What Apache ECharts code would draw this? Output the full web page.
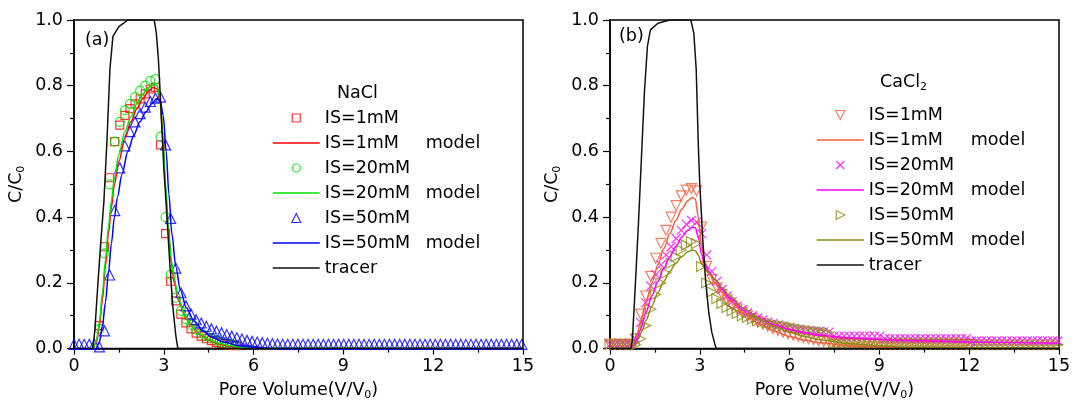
<!DOCTYPE html>
<html><head><meta charset="utf-8">
<script src="https://cdn.jsdelivr.net/npm/echarts@6/dist/echarts.min.js"></script>
<style>html,body{margin:0;padding:0;background:#fff}#c{width:1074px;height:406px}</style>
</head><body><div id="c"></div>
<script>
// Pore volume sampling of the measured points
const PV = [0,0.17,0.34,0.51,0.68,0.85,1.02,1.19,1.36,1.53,1.7,1.87,2.04,2.21,2.38,2.55,2.72,2.89,3.06,3.23,3.4,3.57,3.74,3.91,4.08,4.25,4.42,4.59,4.76,4.93,5.1,5.27,5.44,5.61,5.78,5.95,6.12,6.29,6.46,6.63,6.8,6.97,7.14,7.31,7.48,7.65,7.82,7.99,8.16,8.33,8.5,8.67,8.84,9.01,9.18,9.35,9.52,9.69,9.86,10.03,10.2,10.37,10.54,10.71,10.88,11.05,11.22,11.39,11.56,11.73,11.9,12.07,12.24,12.41,12.58,12.75,12.92,13.09,13.26,13.43,13.6,13.77,13.94,14.11,14.28,14.45,14.62,14.79,14.96];

// (a) NaCl measured C/C0
const NaCl_1mM = [null,null,null,null,null,0.07,0.31,0.52,0.63,0.68,0.71,0.73,0.745,0.76,0.775,0.79,0.795,0.62,0.35,0.205,0.145,0.105,0.078,0.06,0.047,0.038,0.03,0.024,0.019,0.015,0.012,0.01,0.009];
const NaCl_20mM = [null,null,null,null,null,0.06,0.29,0.5,0.63,0.69,0.725,0.745,0.765,0.785,0.8,0.815,0.82,0.645,0.4,0.225,0.155,0.115,0.09,0.072,0.058,0.047,0.038,0.031,0.025,0.02,0.016,0.013,0.011];
const NaCl_50mM = [0.013,0.013,0.013,0.013,0.013,0.005,0.054,0.224,0.42,0.55,0.617,0.66,0.69,0.715,0.735,0.752,0.762,0.765,0.62,0.396,0.245,0.17,0.13,0.105,0.088,0.078,0.068,0.06,0.053,0.048,0.043,0.038,0.033,0.029,0.025,0.022,0.02,0.018,0.016,0.015,0.014,0.013,0.013,0.013,0.013,0.013,0.013,0.013,0.013,0.013,0.013,0.013,0.013,0.013,0.013,0.013,0.013,0.013,0.013,0.013,0.013,0.013,0.013,0.013,0.013,0.013,0.013,0.013,0.013,0.013,0.013,0.013,0.013,0.013,0.013,0.013,0.013,0.013,0.013,0.013,0.013,0.013,0.013,0.013,0.013,0.013,0.013,0.013,0.013];

// (b) CaCl2 measured C/C0
const CaCl2_1mM = [0.013,0.013,0.013,0.013,0.013,0.03,0.105,0.16,0.22,0.275,0.32,0.36,0.4,0.435,0.465,0.482,0.487,0.48,0.37,0.25,0.21,0.185,0.165,0.148,0.13,0.12,0.11,0.1,0.091,0.083,0.075,0.068,0.061,0.055,0.05,0.045,0.041,0.037,0.033,0.03,0.027,0.024,0.022,0.02,0.018,0.017,0.016,0.015,0.014,0.013,0.013,0.013,0.013,0.013,0.013,0.013,0.013,0.013,0.013,0.013,0.013,0.013,0.013,0.013,0.013,0.013,0.013,0.013,0.013,0.013,0.013,0.013];
const CaCl2_20mM = [0.013,0.013,0.013,0.013,0.013,0.03,0.08,0.14,0.19,0.225,0.255,0.285,0.31,0.335,0.36,0.378,0.39,0.385,0.35,0.285,0.235,0.205,0.18,0.16,0.143,0.13,0.119,0.109,0.1,0.093,0.087,0.081,0.076,0.072,0.068,0.064,0.061,0.058,0.056,0.054,0.053,0.052,0.051,0.05,0.038,0.038,0.038,0.038,0.038,0.038,0.038,0.038,0.038,0.038,0.03,0.03,0.03,0.03,0.03,0.03,0.03,0.03,0.03,0.03,0.03,0.03,0.03,0.03,0.03,0.03,0.03,0.023,0.023,0.023,0.023,0.023,0.023,0.023,0.023,0.023,0.023,0.023,0.023,0.023,0.023,0.023,0.023,0.023,0.023];
const CaCl2_50mM = [0.013,0.013,0.013,0.013,0.013,0.012,0.03,0.07,0.12,0.165,0.2,0.23,0.26,0.28,0.3,0.315,0.325,0.32,0.25,0.2,0.172,0.152,0.137,0.125,0.115,0.107,0.1,0.095,0.09,0.085,0.081,0.077,0.074,0.072,0.07,0.067,0.064,0.061,0.058,0.056,0.054,0.052,0.05,0.048,0.017,0.017,0.017,0.017,0.017,0.017,0.017,0.017,0.017,0.017,0.017,0.017,0.017,0.017,0.017,0.017,0.017,0.017,0.017,0.017,0.017,0.017,0.017,0.017,0.017,0.017,0.017,0.012,0.012,0.012,0.012,0.012,0.012,0.012,0.012,0.012,0.012,0.012,0.012,0.012,0.012,0.012,0.012,0.012,0.012];

// model curves and tracer, [PV, C/C0]
const NaCl_1mM_model = [[0.65,0],[0.75,0.02],[0.85,0.07],[0.95,0.15],[1.05,0.25],[1.15,0.35],[1.25,0.43],[1.35,0.5],[1.5,0.57],[1.7,0.64],[1.9,0.69],[2.1,0.73],[2.3,0.76],[2.5,0.785],[2.65,0.795],[2.78,0.79],[2.88,0.75],[2.97,0.64],[3.05,0.5],[3.15,0.36],[3.25,0.26],[3.35,0.2],[3.5,0.145],[3.7,0.1],[3.9,0.07],[4.2,0.043],[4.5,0.026],[4.8,0.015],[5.2,0.007],[5.6,0.003],[6,0],[15,0]];
const NaCl_20mM_model = [[0.65,0],[0.75,0.025],[0.85,0.08],[0.95,0.17],[1.05,0.27],[1.15,0.37],[1.25,0.45],[1.35,0.52],[1.5,0.59],[1.7,0.66],[1.9,0.705],[2.1,0.745],[2.3,0.775],[2.5,0.795],[2.65,0.805],[2.78,0.8],[2.88,0.76],[2.97,0.65],[3.05,0.51],[3.15,0.37],[3.25,0.27],[3.35,0.21],[3.5,0.15],[3.7,0.1],[3.9,0.07],[4.2,0.044],[4.5,0.028],[4.8,0.017],[5.2,0.009],[5.6,0.004],[6,0.001],[15,0]];
const NaCl_50mM_model = [[0.75,0],[0.85,0.02],[0.95,0.07],[1.05,0.14],[1.15,0.23],[1.25,0.32],[1.35,0.4],[1.45,0.46],[1.6,0.53],[1.8,0.6],[2,0.65],[2.2,0.69],[2.4,0.72],[2.6,0.745],[2.75,0.76],[2.88,0.755],[2.98,0.71],[3.08,0.6],[3.17,0.47],[3.27,0.35],[3.4,0.25],[3.55,0.18],[3.75,0.125],[4,0.085],[4.3,0.055],[4.6,0.035],[5,0.02],[5.5,0.009],[6,0.004],[6.5,0.001],[7,0],[15,0]];
const NaCl_tracer = [[0,0],[0.63,0],[0.7,0.06],[0.8,0.2],[0.9,0.33],[1,0.45],[1.1,0.63],[1.2,0.85],[1.3,0.95],[1.5,0.98],[1.8,1],[2.68,1],[2.75,0.96],[2.82,0.88],[2.9,0.74],[3,0.55],[3.1,0.41],[3.2,0.26],[3.3,0.13],[3.4,0.04],[3.47,0],[15,0]];

const CaCl2_1mM_model = [[0.7,0],[0.8,0.015],[0.9,0.04],[1,0.075],[1.2,0.14],[1.4,0.2],[1.6,0.255],[1.8,0.305],[2,0.35],[2.2,0.39],[2.4,0.425],[2.6,0.45],[2.75,0.46],[2.85,0.455],[2.95,0.4],[3.05,0.32],[3.15,0.27],[3.3,0.23],[3.5,0.2],[3.75,0.17],[4,0.145],[4.5,0.105],[5,0.075],[5.5,0.053],[6,0.037],[6.5,0.026],[7,0.018],[8,0.009],[9,0.005],[10,0.002],[12,0],[15,0]];
const CaCl2_20mM_model = [[0.7,0],[0.8,0.01],[0.9,0.03],[1,0.055],[1.2,0.11],[1.4,0.16],[1.6,0.205],[1.8,0.245],[2,0.28],[2.2,0.31],[2.4,0.34],[2.6,0.36],[2.75,0.37],[2.85,0.368],[2.95,0.34],[3.05,0.29],[3.15,0.26],[3.3,0.235],[3.5,0.21],[3.75,0.18],[4,0.155],[4.5,0.12],[5,0.092],[5.5,0.072],[6,0.058],[6.5,0.048],[7,0.041],[8,0.033],[9,0.028],[10,0.025],[12,0.02],[15,0.016]];
const CaCl2_50mM_model = [[0.75,0],[0.85,0.01],[0.95,0.03],[1.05,0.05],[1.2,0.085],[1.4,0.13],[1.6,0.17],[1.8,0.205],[2,0.235],[2.2,0.26],[2.4,0.28],[2.6,0.295],[2.75,0.3],[2.85,0.298],[2.95,0.285],[3.05,0.26],[3.15,0.245],[3.3,0.23],[3.5,0.21],[3.75,0.185],[4,0.16],[4.5,0.12],[5,0.09],[5.5,0.067],[6,0.05],[6.5,0.037],[7,0.027],[8,0.015],[9,0.008],[10,0.004],[12,0.001],[15,0]];
const CaCl2_tracer = [[0,0],[0.7,0],[0.75,0.03],[0.85,0.2],[0.95,0.38],[1.05,0.58],[1.15,0.78],[1.25,0.92],[1.35,0.97],[1.6,0.99],[2,1],[2.7,1],[2.8,0.96],[2.88,0.85],[2.95,0.62],[3,0.5],[3.1,0.33],[3.2,0.2],[3.3,0.11],[3.4,0.05],[3.5,0.015],[3.55,0],[15,0]];

const X_TICKS = [0,3,6,9,12,15];
const Y_TICKS = ['0.0','0.2','0.4','0.6','0.8','1.0'];

const FONT = 'DejaVu Sans';
const zip = (xs, ys) => ys.map((y, i) => y == null ? null : [xs[i], y]).filter(p => p);

// legend icon shapes inside a 47x9 box
const BOX = 'path://M0,0M47,9';
const ICON = {
  rect: BOX + 'M19.5,0.5L27.5,0.5L27.5,8.5L19.5,8.5Z',
  circle: BOX + 'M27.5,4.5A4,4,0,1,1,19.5,4.5A4,4,0,1,1,27.5,4.5Z',
  up: BOX + 'M23.5,0L28,9L19,9Z',
  down: BOX + 'M19,0L28,0L23.5,9Z',
  right: BOX + 'M19.5,0L28,4.5L19.5,9Z',
  cross: BOX + 'M19.5,0.5L27.5,8.5M27.5,0.5L19.5,8.5',
  line: BOX + 'M0,4.5L47,4.5'
};

const legendItems = { a: [], b: [] };
function scat(name, idx, vals, symbol, color, rotate, size, icon) {
  legendItems[name[0]].push({ name, icon: ICON[icon],
    itemStyle: { color: 'rgba(255,255,255,0)', borderColor: color, borderWidth: 1.2 } });
  return {
    type: 'scatter', name, xAxisIndex: idx, yAxisIndex: idx,
    data: zip(PV, vals), symbol, symbolSize: size || 9, symbolRotate: rotate || 0,
    itemStyle: { color: 'rgba(255,255,255,0)', borderColor: color, borderWidth: 1.2 },
    emphasis: { disabled: true }, silent: true
  };
}
function line(name, idx, data, color, smooth) {
  legendItems[name[0]].push({ name, icon: ICON.line,
    itemStyle: { color: 'rgba(255,255,255,0)', borderColor: color, borderWidth: 1.5 } });
  return {
    type: 'line', name, xAxisIndex: idx, yAxisIndex: idx, data,
    symbol: 'none', smooth: smooth, smoothMonotone: 'x',
    lineStyle: { color, width: 1.5 }, itemStyle: { color },
    emphasis: { disabled: true }, silent: true
  };
}

const RED = '#ff0000', GREEN = '#00e400', BLUE = '#0000ff', BLK = '#111111';
const ORG = '#f0603c', MAG = '#ff00ff', OLV = '#8c8c14';
const XPATH = 'path://M0,0L10,10M10,0L0,10';

const series = [
  scat('a:IS=1mM', 0, NaCl_1mM, 'rect', RED, 0, 8, 'rect'),
  line('a:IS=1mM model', 0, NaCl_1mM_model, RED, 0.3),
  scat('a:IS=20mM', 0, NaCl_20mM, 'circle', GREEN, 0, 9, 'circle'),
  line('a:IS=20mM model', 0, NaCl_20mM_model, GREEN, 0.3),
  scat('a:IS=50mM', 0, NaCl_50mM, 'triangle', BLUE, 0, 10, 'up'),
  line('a:IS=50mM model', 0, NaCl_50mM_model, BLUE, 0.3),
  line('a:tracer', 0, NaCl_tracer, BLK, false),
  scat('b:IS=1mM', 1, CaCl2_1mM, 'triangle', ORG, 180, 10, 'down'),
  line('b:IS=1mM model', 1, CaCl2_1mM_model, ORG, 0.3),
  scat('b:IS=20mM', 1, CaCl2_20mM, XPATH, MAG, 0, 9, 'cross'),
  line('b:IS=20mM model', 1, CaCl2_20mM_model, MAG, 0.3),
  scat('b:IS=50mM', 1, CaCl2_50mM, 'triangle', OLV, -90, 10, 'right'),
  line('b:IS=50mM model', 1, CaCl2_50mM_model, OLV, 0.3),
  line('b:tracer', 1, CaCl2_tracer, BLK, false)
];

const SUB = { fontSize: 11, fontFamily: FONT, color: '#000', padding: [10, 0, 0, 0] };
const txt = { fontFamily: FONT, fontSize: 17.5, color: '#000' };

function xAxis(idx) {
  return {
    type: 'value', gridIndex: idx, min: 0, max: 15, interval: 3,
    axisLine: { show: true, onZero: false, lineStyle: { color: '#000', width: 1.5 } },
    axisTick: { show: true, length: 6, lineStyle: { color: '#000', width: 1.2 } },
    minorTick: { show: true, splitNumber: 2, length: 4, lineStyle: { color: '#000', width: 1.2 } },
    splitLine: { show: false },
    axisLabel: Object.assign({ margin: 9, formatter: v => String(X_TICKS[X_TICKS.indexOf(v)]) }, txt),
    name: 'Pore Volume(V/V{s|0})', nameLocation: 'middle', nameGap: 27,
    nameTextStyle: Object.assign({ lineHeight: 20, rich: { s: SUB } }, txt)
  };
}
function yAxis(idx) {
  return {
    type: 'value', gridIndex: idx, min: 0, max: 1, interval: 0.2,
    axisLine: { show: true, onZero: false, lineStyle: { color: '#000', width: 1.5 } },
    axisTick: { show: true, length: 7, lineStyle: { color: '#000', width: 1.2 } },
    minorTick: { show: true, splitNumber: 2, length: 4, lineStyle: { color: '#000', width: 1.2 } },
    splitLine: { show: false },
    axisLabel: Object.assign({ margin: 11, formatter: v => Y_TICKS[Math.round(v * 5)] }, txt),
    name: 'C/C{s|0}', nameLocation: 'middle', nameGap: 48,
    nameTextStyle: Object.assign({ lineHeight: 20, rich: { s: SUB } }, txt)
  };
}

function legend(key, left, top, colW) {
  return {
    orient: 'vertical', left, top, padding: 0, itemGap: 5,
    itemWidth: 47, itemHeight: 9, data: legendItems[key], selectedMode: false,
    symbolKeepAspect: false,
    formatter: n => {
      const t = n.slice(2);
      const i = t.indexOf(' model');
      return i >= 0 ? '{a|' + t.slice(0, i) + '}{b|model}' : '{a|' + t + '}';
    },
    textStyle: Object.assign({ lineHeight: 20, rich: {
      a: Object.assign({ width: colW, lineHeight: 20 }, txt),
      b: Object.assign({ lineHeight: 20 }, txt)
    } }, txt)
  };
}

const chart = echarts.init(document.getElementById('c'), null, { renderer: 'canvas' });
chart.setOption({
  animation: false,
  backgroundColor: '#fff',
  grid: [
    { left: 74, right: 551, top: 20, bottom: 55, show: true, borderColor: '#000', borderWidth: 1.5 },
    { left: 610, right: 15, top: 20, bottom: 55, show: true, borderColor: '#000', borderWidth: 1.5 }
  ],
  xAxis: [xAxis(0), xAxis(1)],
  yAxis: [yAxis(0), yAxis(1)],
  legend: [legend('a', 272, 108, 101), legend('b', 816, 105, 102)],
  title: [
    { text: '(a)', left: 85, top: 30, padding: 0, textStyle: Object.assign({ lineHeight: 20, fontWeight: 'normal' }, txt) },
    { text: '(b)', left: 619, top: 26, padding: 0, textStyle: Object.assign({ lineHeight: 20, fontWeight: 'normal' }, txt) },
    { text: 'NaCl', left: 337, top: 83, padding: 0, textStyle: Object.assign({ lineHeight: 20, fontWeight: 'normal' }, txt) },
    { text: 'CaCl{s|2}', left: 880, top: 72, padding: 0, textStyle: Object.assign({ lineHeight: 20, fontWeight: 'normal', rich: { s: SUB } }, txt) }
  ],
  series
});
</script></body></html>
